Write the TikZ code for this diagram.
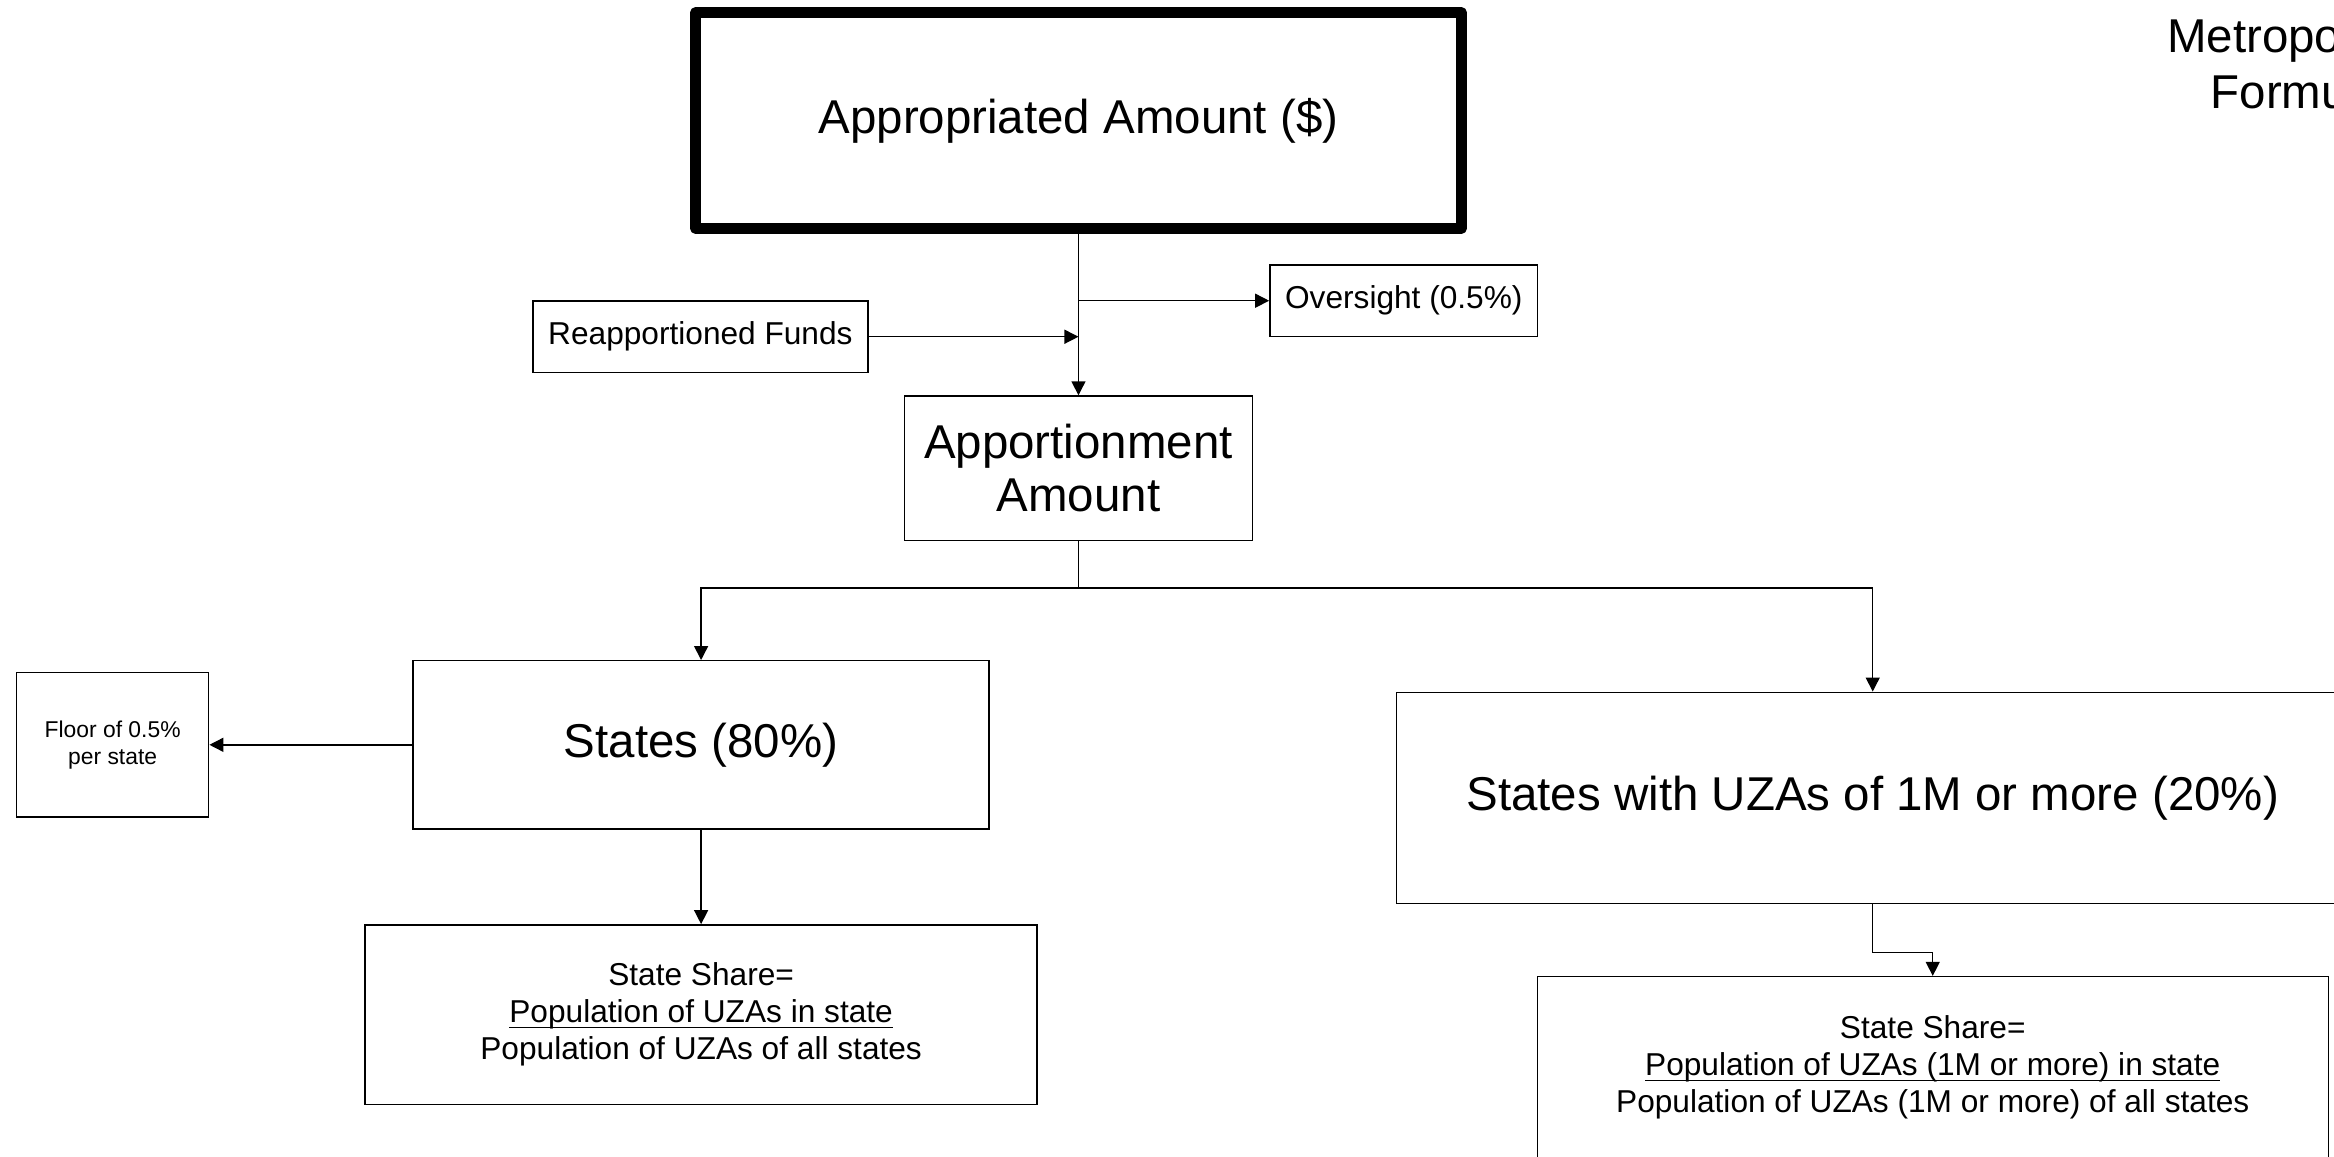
\documentclass[tikz,border=0pt]{standalone}
\usepackage{fontspec}
\setmainfont{Liberation Sans}
\usetikzlibrary{arrows.meta}

\newcommand{\sottolinea}[1]{\underline{\smash{#1}}}

\tikzset{
    box/.style={draw, line width=0.4pt, align=center, inner sep=0pt,
        font=\fontsize{9}{10.6}\selectfont},
    bigbox/.style={box, font=\fontsize{13.5}{15.2}\selectfont},
    freccia/.style={-{Triangle[length=1.4mm,width=1.4mm]}, line width=0.4pt},
}

\begin{document}
\begin{tikzpicture}
    % Area del disegno
    \useasboundingbox (0,0) rectangle (23.33,-11.56);
    \clip (0,0) rectangle (23.33,-11.56);

    % Titolo (tagliato dal bordo)
    \node[anchor=base, font=\fontsize{13.5}{15}\selectfont] (titolo1) at (22.967,-0.521) {Metropolitan};
    \node[anchor=base, font=\fontsize{13.5}{15}\selectfont] (titolo2) at (22.967,-1.080) {Formula};

    % Importo stanziato
    \node[bigbox, line width=3pt, line join=round, minimum width=7.656cm, minimum height=2.158cm]
        (approp) at (10.78,-1.205) {Appropriated Amount (\$)};

    % Fondi in entrata e in uscita
    \node[box, minimum width=2.678cm, minimum height=0.714cm] (overs) at (14.032,-3.006) {Oversight (0.5\%)};
    \node[box, minimum width=3.348cm, minimum height=0.714cm] (reapp) at (7.001,-3.366) {Reapportioned Funds};

    % Importo ripartito
    \node[bigbox, minimum width=3.482cm, minimum height=1.443cm] (apport) at (10.78,-4.680) {Apportionment\\Amount};

    % Ramo sinistro
    \node[bigbox, minimum width=5.759cm, minimum height=1.681cm] (states) at (7.008,-7.445) {States (80\%)};
    \node[box, font=\fontsize{6.5}{7.6}\selectfont, minimum width=1.920cm, minimum height=1.443cm]
        (floor) at (1.126,-7.445) {Floor of 0.5\%\\per state};
    \node[box, minimum width=6.718cm, minimum height=1.793cm] (shareL) at (7.008,-10.141)
        {State Share=\\\sottolinea{Population of UZAs in state}\\Population of UZAs of all states};

    % Ramo destro
    \node[bigbox, minimum width=9.523cm, minimum height=2.113cm] (big) at (18.719,-7.976)
        {States with UZAs of 1M or more (20\%)};
    \node[box, minimum width=7.907cm, minimum height=1.815cm] (shareR) at (19.319,-10.669)
        {State Share=\\\sottolinea{Population of UZAs (1M or more) in state}\\Population of UZAs (1M or more) of all states};

    % Collegamenti
    \draw[freccia] (approp.south) -- (apport.north);
    \draw[freccia] (approp.south |- overs.west) -- (overs.west);
    \draw[freccia] (reapp.east) -- (reapp.east -| apport.north);
    \coordinate (fork) at (10.78,-5.878);
    \draw[line width=0.4pt] (apport.south) -- (fork);
    \draw[freccia] (fork) -| (states.north);
    \draw[freccia] (fork) -| (big.north);
    \draw[freccia] (states.west) -- (floor.east);
    \draw[freccia] (states.south) -- (shareL.north);
    \draw[freccia] (big.south) -- ++(0,-0.48) -| (shareR.north);
\end{tikzpicture}
\end{document}
